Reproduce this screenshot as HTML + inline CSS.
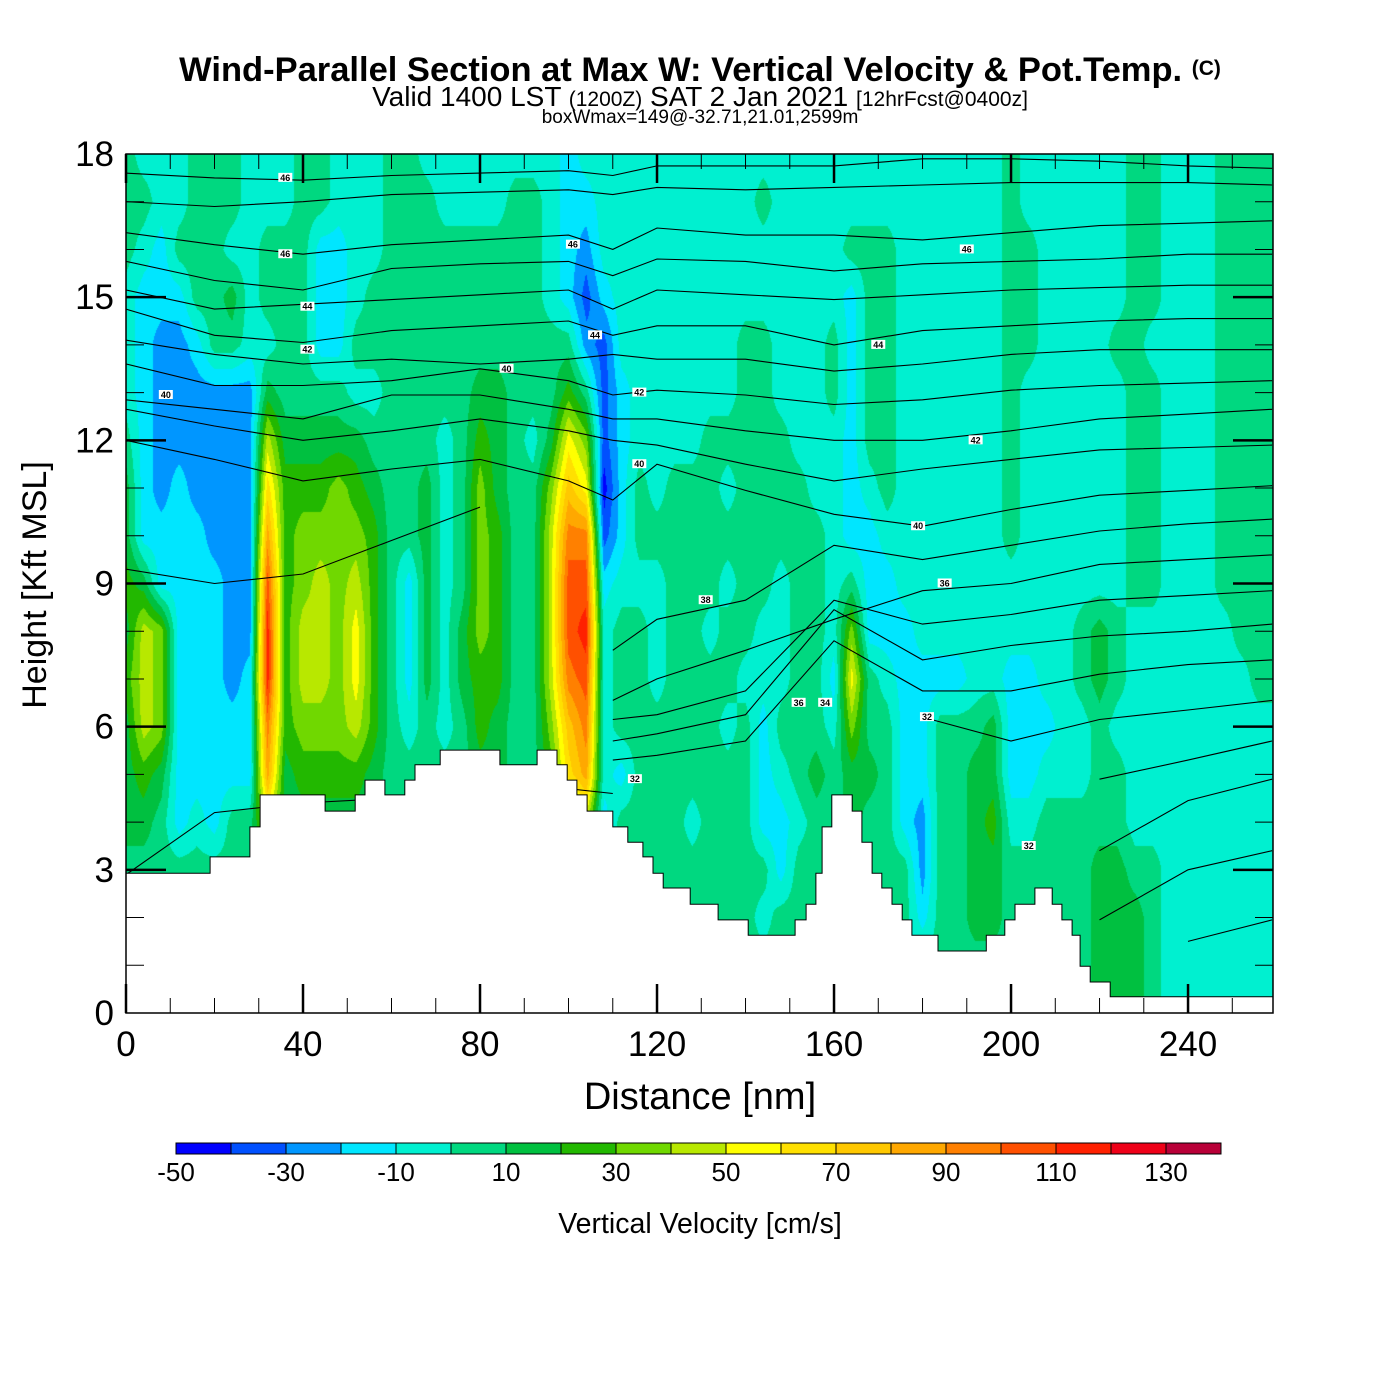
<!DOCTYPE html>
<html><head><meta charset="utf-8"><title>Wind-Parallel Section</title>
<style>
html,body{margin:0;padding:0;background:#fff;}
#wrap{position:relative;width:1400px;height:1400px;overflow:hidden;font-family:"Liberation Sans",Arial,sans-serif;}
#field{position:absolute;left:126px;top:154px;}
#ov{position:absolute;left:0;top:0;}
</style></head>
<body>
<div id="wrap">
<canvas id="field" width="1147" height="859"></canvas>
<svg id="ov" width="1400" height="1400" xmlns="http://www.w3.org/2000/svg">
  <g id="contours"></g>
  <g id="terrain"></g>
  <g id="clabels"></g>
  <rect x="126" y="154" width="1147" height="859" fill="none" stroke="#000" stroke-width="1.5"/>
  <g id="ticks"></g>
  <g id="xlabels" font-size="35" text-anchor="middle"></g>
  <g id="ylabels" font-size="35" text-anchor="end"></g>
  <text x="700" y="81" text-anchor="middle" font-size="34.5" font-weight="bold">Wind-Parallel Section at Max W: Vertical Velocity &amp; Pot.Temp. <tspan font-size="21" dy="-6">(C)</tspan></text>
  <text x="700" y="106" text-anchor="middle" font-size="28">Valid 1400 LST <tspan font-size="21">(1200Z)</tspan> SAT 2 Jan 2021 <tspan font-size="21">[12hrFcst@0400z]</tspan></text>
  <text x="700" y="123" text-anchor="middle" font-size="19">boxWmax=149@-32.71,21.01,2599m</text>
  <text x="700" y="1109" text-anchor="middle" font-size="38">Distance [nm]</text>
  <text transform="translate(46,585) rotate(-90)" text-anchor="middle" font-size="34">Height [Kft MSL]</text>
  <g id="cbar"></g>
  <g id="cbarlabels" font-size="26" text-anchor="middle"></g>
  <text x="700" y="1233" text-anchor="middle" font-size="28.5">Vertical Velocity [cm/s]</text>
</svg>
</div>
<script>
// ---------- data ----------
const binColors = ["#0000ff","#0050ff","#0096ff","#00e6ff","#00f0d0","#00d880","#00c040","#22b800","#70d800","#b8e800","#ffff00","#ffe000","#ffc800","#ffa800","#ff8000","#ff5000","#ff2000","#ee0018","#b80038"];
const binEdges = [-50,-40,-30,-20,-10,0,10,20,30,40,50,60,70,80,90,100,110,120,130,140];
const cbarTickLabels = ["-50","-30","-10","10","30","50","70","90","110","130"];
const xTickLabels = ["0","40","80","120","160","200","240"];
const yTickLabels = ["0","3","6","9","12","15","18"];
// W node grid: columns every 4 nm (0..260), rows h=18 down to h=0 kft; char = colour bin index
const nodeStepNm = 4;
const wRows = [
"5444555444"+"5544455444"+"4444434444"+"4444444444"+"4444444444"+"5444444554"+"445555",
"5544555444"+"5544455544"+"4455433444"+"4444445444"+"4444444444"+"5444444554"+"445555",
"5435554455"+"5334455555"+"5555432444"+"4444444444"+"4555444444"+"5544444554"+"445555",
"4333556455"+"5334555555"+"5555431344"+"4444444444"+"4355444444"+"5544444554"+"445555",
"4322355445"+"5335555555"+"5555552144"+"4444455444"+"5355444444"+"5544445544"+"445555",
"4322222265"+"5554455555"+"6655575134"+"4444455444"+"5355444444"+"5444444554"+"445555",
"5322222296"+"6666555545"+"76546a8134"+"4445555544"+"4355444444"+"5444444554"+"445555",
"63232222b7"+"7787655645"+"86558ca035"+"4555455554"+"4345444444"+"5444444554"+"445555",
"63333222d7"+"8888755645"+"87559ee135"+"5555555555"+"4334444444"+"5444444554"+"445555",
"76333322f7"+"8989753645"+"87559ff344"+"4555455455"+"4533444444"+"4444444554"+"445555",
"69833322g7"+"998a753646"+"87559fg455"+"4554554455"+"4833344444"+"4444565444"+"444555",
"79833323g7"+"998a753646"+"77559ef455"+"4555544455"+"3a54333344"+"3344565444"+"444455",
"69833333e7"+"8889754545"+"76558ce455"+"5555453555"+"4855335556"+"3334454444"+"444444",
"67633333d6"+"7777655555"+"66557bd435"+"5555553456"+"5665335566"+"3344455444"+"444444",
"6653435596"+"6666655555"+"5555569355"+"5545553345"+"5655325567"+"4455555444"+"444444",
"5555555555"+"5555555555"+"5555555555"+"5555555355"+"5555525566"+"5555566554"+"444444",
"5555555555"+"5555555555"+"5555555555"+"5555554555"+"5555535566"+"5555566654"+"444444",
"5555555555"+"5555555555"+"5555555555"+"5555555555"+"5555555555"+"5555566654"+"444444",
"5555555555"+"5555555555"+"5555555555"+"5555555555"+"5555555555"+"5555566654"+"444444"
];
// terrain steps: start distance (nm) and height (kft)
const terrainStart = [0,19,28,30.3,45,51.8,54,58.5,63,65.3,71,84.5,92.9,97.4,99.7,101.9,104.2,110,113.4,116.8,119.1,121.4,127.5,133.8,140.6,151.2,153.7,155.9,157.3,159.5,164.1,166.3,168.6,170.8,173.1,175.4,177.6,183.5,194.4,198.6,200.9,205.4,209.3,211.5,213.8,215.6,217.9,222.4];
const terrainHeight = [2.93,3.27,3.9,4.57,4.23,4.57,4.88,4.57,4.88,5.2,5.51,5.2,5.51,5.2,4.88,4.57,4.23,3.9,3.58,3.27,2.93,2.62,2.28,1.95,1.63,1.95,2.28,2.93,3.9,4.57,4.23,3.58,2.93,2.62,2.28,1.95,1.63,1.3,1.63,1.95,2.28,2.62,2.28,1.95,1.63,0.98,0.65,0.34];
// isentrope heights (kft) at sample distances
const contourDist = [0,20,40,60,80,100,110,120,140,160,180,200,220,240,259];
const N = null;
const isentropeHeights = [
[17.6,17.5,17.45,17.55,17.6,17.65,17.55,17.75,17.75,17.75,17.9,17.9,17.85,17.75,17.7],
[17.0,16.9,17.0,17.15,17.2,17.25,17.15,17.3,17.25,17.3,17.35,17.4,17.4,17.4,17.35],
[16.35,16.1,15.9,16.1,16.2,16.3,16.0,16.45,16.3,16.3,16.2,16.35,16.5,16.55,16.6],
[15.75,15.35,15.15,15.6,15.7,15.75,15.45,15.8,15.75,15.55,15.7,15.75,15.8,15.9,15.9],
[15.15,14.75,14.85,14.95,15.05,15.15,14.75,15.15,15.05,14.95,15.05,15.15,15.2,15.25,15.25],
[14.75,14.2,14.05,14.3,14.4,14.5,14.2,14.4,14.4,14.0,14.3,14.4,14.5,14.55,14.55],
[14.1,13.8,13.6,13.7,13.6,13.7,13.8,13.7,13.7,13.45,13.6,13.8,13.9,13.9,13.9],
[13.6,13.15,13.15,13.25,13.5,13.25,12.95,13.05,12.95,12.75,12.85,13.05,13.15,13.2,13.25],
[12.85,12.65,12.45,12.95,12.95,12.65,12.45,12.45,12.2,12.0,12.0,12.2,12.45,12.55,12.65],
[12.65,12.3,12.0,12.2,12.45,12.2,12.0,11.9,11.5,11.15,11.4,11.6,11.8,11.85,11.9],
[12.0,11.6,11.15,11.4,11.6,11.15,10.75,11.5,10.95,10.45,10.2,10.55,10.85,10.95,11.05],
[N,N,N,N,N,N,7.6,8.25,8.65,9.8,9.5,9.8,10.1,10.25,10.35],
[N,N,N,N,N,N,6.55,7.0,7.6,8.25,8.85,9.0,9.4,9.5,9.6],
[N,N,N,N,N,N,6.15,6.25,6.75,8.65,8.15,8.35,8.65,8.75,8.85],
[N,N,N,N,N,N,5.7,5.85,6.25,8.45,7.4,7.7,7.9,8.0,8.15],
[N,N,N,N,N,N,5.3,5.4,5.7,7.8,6.75,6.75,7.1,7.3,7.4],
[N,N,N,N,N,N,N,N,N,N,6.2,5.7,6.15,6.35,6.55],
[N,N,N,N,N,N,N,N,N,N,N,N,4.9,5.3,5.7],
[N,N,N,N,N,N,N,N,N,N,N,N,3.4,4.45,4.9],
[N,N,N,N,N,N,N,N,N,N,N,N,1.95,3.0,3.4],
[N,N,N,N,N,N,N,N,N,N,N,N,N,1.5,1.95],
[2.9,4.2,4.4,4.5,4.6,4.7,4.6,N,N,N,N,N,N,N,N],
[9.3,9.0,9.2,9.9,10.6,N,N,N,N,N,N,N,N,N,N]
];
const contourLabelText = ["46","46","44","42","40","40","46","44","42","40","46","44","42","40","38","36","36","34","32","32","32"];
const contourLabelDist = [36,36,41,41,9,86,101,106,116,116,190,170,192,179,131,185,152,158,181,115,204];
const contourLabelH = [17.5,15.9,14.8,13.9,12.95,13.5,16.1,14.2,13.0,11.5,16.0,14.0,12.0,10.2,8.65,9.0,6.5,6.5,6.2,4.9,3.5];

// ---------- scales ----------
const X0=126, X1=1273, Y0=1013, Y1=154, DMAX=259.2, HMAX=18;
const xS = d => X0 + d*(X1-X0)/DMAX;
const yS = h => Y0 - h*(Y0-Y1)/HMAX;
const SVGNS="http://www.w3.org/2000/svg";
function mk(tag, parent){const e=document.createElementNS(SVGNS,tag);parent.appendChild(e);return e;}
function binOf(v){let b=Math.floor((v-binEdges[0])/10);return Math.max(0,Math.min(binColors.length-1,b));}

// ---------- field (canvas) ----------
(function(){
  const nRows=wRows.length, nCols=Math.ceil(DMAX/nodeStepNm)+1;
  const grid=[];
  for(let r=0;r<nRows;r++){
    const h=HMAX-r; const s=wRows[r]; const row=[];
    for(let c=0;c<nCols;c++){const ch=s[Math.min(c,s.length-1)]||"4";row.push(binEdges[0]+5+10*parseInt(ch,36));}
    grid[h]=row;
  }
  const rgb=binColors.map(c=>[parseInt(c.slice(1,3),16),parseInt(c.slice(3,5),16),parseInt(c.slice(5,7),16)]);
  const cv=document.getElementById('field'),ctx=cv.getContext('2d');
  const W=cv.width,H=cv.height,img=ctx.createImageData(W,H);
  for(let py=0;py<H;py++){
    const h=(Y0-(py+Y1+0.5))*HMAX/(Y0-Y1);
    const hc=Math.max(0,Math.min(HMAX,h)); let r0=Math.min(HMAX-1,Math.floor(hc)); const fy=hc-r0;
    for(let px=0;px<W;px++){
      const d=(px+0.5)*DMAX/(X1-X0);
      const cc=d/nodeStepNm; let c0=Math.min(nCols-2,Math.floor(cc)); const fx=cc-c0;
      const a=grid[r0][c0],b=grid[r0][c0+1],c=grid[r0+1][c0],e=grid[r0+1][c0+1];
      const v=(a*(1-fx)+b*fx)*(1-fy)+(c*(1-fx)+e*fx)*fy;
      const col=rgb[binOf(v)]; const i=(py*W+px)*4;
      img.data[i]=col[0];img.data[i+1]=col[1];img.data[i+2]=col[2];img.data[i+3]=255;
    }
  }
  ctx.putImageData(img,0,0);
})();

// ---------- isentropes ----------
(function(){
  const g=document.getElementById('contours');
  isentropeHeights.forEach((arr,k)=>{
    let pts=[];
    const flush=()=>{ if(pts.length>1){const p=mk('polyline',g);
      
      
      p.setAttribute('points',pts.join(' '));p.setAttribute('fill','none');p.setAttribute('stroke','#000');p.setAttribute('stroke-width','1.1');} pts=[]; };
    arr.forEach((h,i)=>{ if(h===null){flush();} else pts.push(xS(contourDist[i]).toFixed(1)+','+yS(h).toFixed(1)); });
    flush();
  });
  const lg=document.getElementById('clabels');
  contourLabelText.forEach((t,i)=>{
    const x=xS(contourLabelDist[i]),y=yS(contourLabelH[i]);
    const r=mk('rect',lg);
    
    
    r.setAttribute('x',x-7);r.setAttribute('y',y-5);r.setAttribute('width',14);r.setAttribute('height',9);r.setAttribute('fill','#fff');
    const tx=mk('text',lg);
    
    
    tx.setAttribute('x',x);tx.setAttribute('y',y+3);tx.setAttribute('font-size','9');tx.setAttribute('font-weight','bold');tx.setAttribute('text-anchor','middle');tx.textContent=t;
  });
})();

// ---------- terrain ----------
(function(){
  const g=document.getElementById('terrain');
  let d='M'+xS(0)+','+(Y0);
  terrainStart.forEach((s,i)=>{
    const e=i<terrainStart.length-1?terrainStart[i+1]:DMAX;
    d+=' L'+xS(s).toFixed(1)+','+yS(terrainHeight[i]).toFixed(1)+' L'+xS(e).toFixed(1)+','+yS(terrainHeight[i]).toFixed(1);
  });
  d+=' L'+X1+','+Y0+' Z';
  const p=mk('path',g);
  
  
  p.setAttribute('d',d);p.setAttribute('fill','#fff');p.setAttribute('stroke','#000');p.setAttribute('stroke-width','1');
})();

// ---------- axes ----------
(function(){
  const g=document.getElementById('ticks');
  function line(x1,y1,x2,y2,w){const l=mk('line',g);
    
    
    l.setAttribute('x1',x1);l.setAttribute('y1',y1);l.setAttribute('x2',x2);l.setAttribute('y2',y2);l.setAttribute('stroke','#000');l.setAttribute('stroke-width',w);}
  for(let d=0;d<=250;d+=10){const x=xS(d),maj=d%40===0,L=maj?29:15,w=maj?2.5:1;
    line(x,Y0,x,Y0-L,w);line(x,Y1,x,Y1+L,w);}
  for(let h=1;h<18;h++){const y=yS(h),maj=h%3===0,L=maj?40:18,w=maj?2.5:1;
    line(X0,y,X0+L,y,w);line(X1,y,X1-L,y,w);}
  const xl=document.getElementById('xlabels');
  xTickLabels.forEach(t=>{const tx=mk('text',xl);
    
    
    tx.setAttribute('x',xS(+t));tx.setAttribute('y',Y0+43);tx.textContent=t;});
  const yl=document.getElementById('ylabels');
  yTickLabels.forEach(t=>{const tx=mk('text',yl);
    
    
    tx.setAttribute('x',114);tx.setAttribute('y',yS(+t)+12);tx.textContent=t;});
})();

// ---------- colorbar ----------
(function(){
  const g=document.getElementById('cbar');
  const cx0=176,cx1=1221,cy=1143,ch=11,bw=(cx1-cx0)/binColors.length;
  binColors.forEach((c,i)=>{const r=mk('rect',g);
    
    
    r.setAttribute('x',cx0+i*bw);r.setAttribute('y',cy);r.setAttribute('width',bw);r.setAttribute('height',ch);
    r.setAttribute('fill',c);r.setAttribute('stroke','#000');r.setAttribute('stroke-width','1');});
  const lg=document.getElementById('cbarlabels');
  cbarTickLabels.forEach(t=>{const v=+t;const x=cx0+(v-binEdges[0])/10*bw;const tx=mk('text',lg);
    
    
    tx.setAttribute('x',x);tx.setAttribute('y',1181);tx.textContent=t;});
})();
</script>
</body></html>
